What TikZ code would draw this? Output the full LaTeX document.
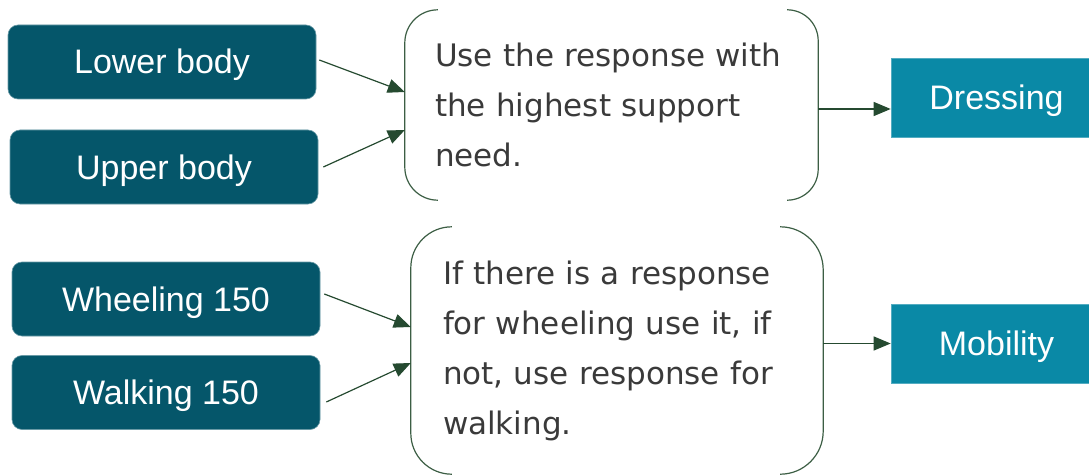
\documentclass[tikz,border=0pt]{standalone}
\usepackage{fontspec}
\setmainfont{Liberation Sans}
\newfontfamily\rulefont{DejaVu Sans}
\usetikzlibrary{arrows.meta,calc}
\definecolor{darkteal}{HTML}{05566A}
\definecolor{lightteal}{HTML}{0A89A6}
\definecolor{arrowgreen}{HTML}{254A30}
\definecolor{bracketgreen}{HTML}{3C5E44}
\definecolor{ruletext}{HTML}{3A3A3A}
\tikzset{
  inbox/.style={fill=darkteal, draw=darkteal!60!white, line width=0.6pt, rounded corners=10pt,
    minimum width=308pt, minimum height=74pt, text=white,
    font=\fontsize{34}{40}\selectfont, text height=24pt, text depth=0pt, inner sep=0pt},
  outbox/.style={fill=lightteal, draw=lightteal!70!white, line width=0.6pt,
    minimum width=211pt, minimum height=79pt, text=white,
    font=\fontsize{34}{40}\selectfont, text height=24pt, text depth=0pt, inner sep=0pt},
  rulebox/.style={align=left, text=ruletext, font=\rulefont\fontsize{31}{50}\selectfont,
    inner ysep=0pt},
  bracket/.style={draw=bracketgreen, line width=1.2pt},
  conn/.style={draw=arrowgreen, line width=1.2pt, -{Triangle[length=17pt,width=14pt]}}
}
\begin{document}
\begin{tikzpicture}[x=1pt,y=-1pt]
\useasboundingbox (0,0) rectangle (1089,476);
\clip (0,0) rectangle (1089,476);
% input boxes
\node[inbox] (lb) at (162,62) {Lower body};
\node[inbox] (ub) at (164,167) {Upper body};
\node[inbox] (wh) at (166,299) {Wheeling 150};
\node[inbox] (wk) at (166,392.5) {Walking 150};
% rule boxes
\node[rulebox, minimum width=413pt, minimum height=190pt, text width=353pt, inner xsep=30pt] (r1) at (611.5,105)
  {Use the response with\\the highest support\\need.};
\node[rulebox, minimum width=412pt, minimum height=247pt, text width=348pt, inner xsep=32pt] (r2) at (617,350.5)
  {If there is a response\\for wheeling use it, if\\not, use response for\\walking.};
% brackets
\draw[bracket, rounded corners=33pt] ([xshift=33pt]r1.north west) -- (r1.north west) -- (r1.south west) -- ([xshift=33pt]r1.south west);
\draw[bracket, rounded corners=31pt] ([xshift=-31pt]r1.north east) -- (r1.north east) -- (r1.south east) -- ([xshift=-31pt]r1.south east);
\draw[bracket, rounded corners=41pt] ([xshift=41pt]r2.north west) -- (r2.north west) -- (r2.south west) -- ([xshift=41pt]r2.south west);
\draw[bracket, rounded corners=43pt] ([xshift=-43pt]r2.north east) -- (r2.north east) -- (r2.south east) -- ([xshift=-43pt]r2.south east);
% output boxes
\node[outbox] (dr) at (996.5,97.5) {Dressing};
\node[outbox] (mo) at (996.5,343.5) {Mobility};
% connectors
\draw[conn] ([xshift=3pt,yshift=2pt]lb.east) -- ([yshift=13pt]r1.west);
\draw[conn] ([xshift=5pt]ub.east) -- ([yshift=-25pt]r1.west);
\draw[conn] ([xshift=4pt,yshift=5pt]wh.east) -- ([yshift=23.5pt]r2.west);
\draw[conn] ([xshift=6pt,yshift=-9.5pt]wk.east) -- ([yshift=-12.5pt]r2.west);
\draw[conn] ([yshift=-4pt]r1.east) -- ([yshift=-4pt]r1.east -| dr.west);
\draw[conn] (r2.east |- mo.west) -- (mo.west);
\end{tikzpicture}
\end{document}
